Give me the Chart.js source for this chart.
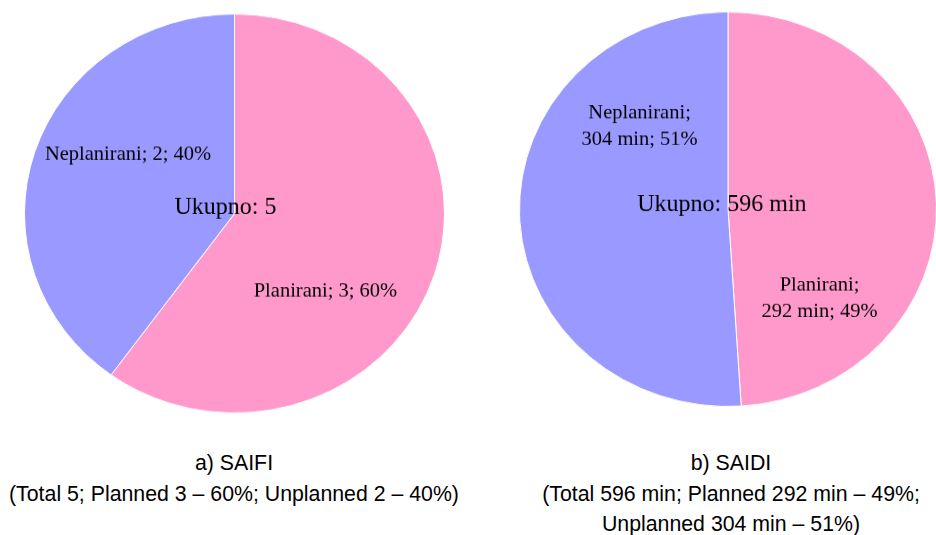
<!DOCTYPE html>
<html>
<head>
<meta charset="utf-8">
<script src="https://cdn.jsdelivr.net/npm/chart.js@4"></script>
<style>
  html, body { margin: 0; padding: 0; background: #fff; width: 936px; height: 535px; overflow: hidden; position: relative; }
  .box { position: absolute; transform-origin: 0 0; }
  .cap { position: absolute; font-family: 'Liberation Sans', Arial, sans-serif; font-size: 21.3px; line-height: 30.5px; text-align: center; color: #000; white-space: nowrap; }
</style>
</head>
<body>
<div class="box" id="saifiBox" style="left:13.7px; top:3.8px; width:441px; height:441px; transform:scaleY(0.95)">
  <canvas id="saifiChart"></canvas>
</div>
<div class="box" id="saidiBox" style="left:509px; top:2.1px; width:438px; height:438px; transform:scaleY(0.946)">
  <canvas id="saidiChart"></canvas>
</div>
<div class="cap" id="saifiCaption" style="left:0; top:448.4px; width:468px"></div>
<div class="cap" id="saidiCaption" style="left:531px; top:448.4px; width:400px"></div>

<script>
// data
const categories = ['Planirani', 'Neplanirani'];
const categoriesEn = ['Planned', 'Unplanned'];
const saifiValues = [3, 2];
const saidiValues = [292, 304];
const sliceColors = ['#FF99CC', '#9999FF'];

const sum = arr => arr.reduce((a, b) => a + b, 0);
const pct = (arr, i) => Math.round(arr[i] / sum(arr) * 100);

// draws the in-pie texts, undoing the vertical squash of the box
const pieTexts = {
  id: 'pieTexts',
  afterDatasetsDraw(chart, args, opts) {
    const arc = chart.getDatasetMeta(0).data[0];
    const { x, y, outerRadius } = arc;
    const ctx = chart.ctx;
    ctx.save();
    ctx.fillStyle = '#000';
    ctx.textAlign = 'center';
    ctx.textBaseline = 'alphabetic';
    opts.items.forEach(it => {
      ctx.save();
      ctx.translate(x + it.dx * outerRadius, y + it.dy * outerRadius);
      ctx.scale(1, 1 / opts.squash);
      ctx.font = it.size + "px 'Liberation Serif', 'Times New Roman', serif";
      it.lines.forEach((line, i) => ctx.fillText(line, 0, i * opts.lineHeight));
      ctx.restore();
    });
    ctx.restore();
  }
};

function makePie(id, values, items, squash) {
  new Chart(document.getElementById(id), {
    type: 'pie',
    data: {
      labels: categories,
      datasets: [{
        data: values,
        backgroundColor: sliceColors,
        borderColor: '#ffffff',
        borderWidth: 1
      }]
    },
    options: {
      responsive: true,
      maintainAspectRatio: false,
      animation: false,
      layout: { padding: 10 },
      plugins: {
        legend: { display: false },
        tooltip: { enabled: false },
        pieTexts: { items: items, squash: squash, lineHeight: 27 }
      }
    },
    plugins: [pieTexts]
  });
}

makePie('saifiChart', saifiValues, [
  { dx: 0.433, dy: 0.418, size: 20.5, lines: [`${categories[0]}; ${saifiValues[0]}; ${pct(saifiValues, 0)}%`] },
  { dx: -0.507, dy: -0.268, size: 20.5, lines: [`${categories[1]}; ${saifiValues[1]}; ${pct(saifiValues, 1)}%`] },
  { dx: -0.043, dy: 0, size: 24, lines: [`Ukupno: ${sum(saifiValues)}`] }
], 0.95);

makePie('saidiChart', saidiValues, [
  { dx: 0.439, dy: 0.411, size: 20.5, lines: [`${categories[0]};`, `${saidiValues[0]} min; ${pct(saidiValues, 0)}%`] },
  { dx: -0.424, dy: -0.462, size: 20.5, lines: [`${categories[1]};`, `${saidiValues[1]} min; ${pct(saidiValues, 1)}%`] },
  { dx: -0.029, dy: 0.01, size: 24, lines: [`Ukupno: ${sum(saidiValues)} min`] }
], 0.946);

document.getElementById('saifiCaption').innerHTML =
  'a) SAIFI<br>' +
  `(Total ${sum(saifiValues)}; ${categoriesEn[0]} ${saifiValues[0]} – ${pct(saifiValues, 0)}%; ` +
  `${categoriesEn[1]} ${saifiValues[1]} – ${pct(saifiValues, 1)}%)`;

document.getElementById('saidiCaption').innerHTML =
  'b) SAIDI<br>' +
  `(Total ${sum(saidiValues)} min; ${categoriesEn[0]} ${saidiValues[0]} min – ${pct(saidiValues, 0)}%;<br>` +
  `${categoriesEn[1]} ${saidiValues[1]} min – ${pct(saidiValues, 1)}%)`;
</script>
</body>
</html>
